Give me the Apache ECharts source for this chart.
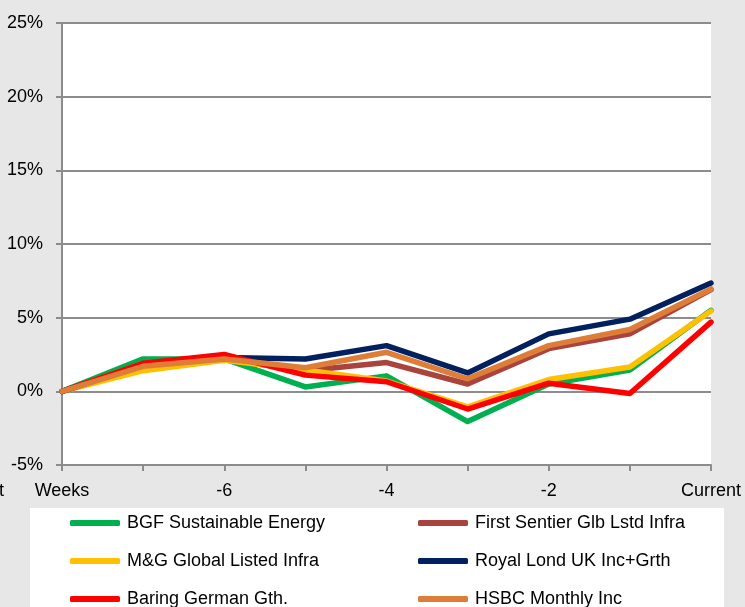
<!DOCTYPE html>
<html><head><meta charset="utf-8">
<script src="https://cdn.jsdelivr.net/npm/echarts@6/dist/echarts.min.js"></script>
<style>html,body{margin:0;padding:0;background:#e7e7e7;}#c{width:745px;height:607px;}</style>
</head><body><div id="c"></div>
<script>
var categories = ["Weeks","-7","-6","-5","-4","-3","-2","-1","Current"];
var yTicks = [-5, 0, 5, 10, 15, 20, 25];
var seriesNames = ["BGF Sustainable Energy","First Sentier Glb Lstd Infra","M&G Global Listed Infra","Royal Lond UK Inc+Grth","Baring German Gth.","HSBC Monthly Inc"];
var bgf     = [0, 2.2, 2.2, 0.3, 1.05, -2.05, 0.5, 1.45, 5.5];
var first   = [0, 1.7, 2.2, 1.4, 1.95, 0.5, 2.9, 3.9, 6.9];
var mg      = [0, 1.4, 2.1, 1.45, 0.7, -1.05, 0.8, 1.65, 5.45];
var royal   = [0, 1.8, 2.3, 2.2, 3.1, 1.25, 3.9, 4.9, 7.35];
var baring  = [0, 1.9, 2.5, 1.1, 0.65, -1.2, 0.55, -0.15, 4.7];
var hsbc    = [0, 1.7, 2.2, 1.6, 2.65, 0.85, 3.1, 4.2, 6.95];
var values = [bgf, first, mg, royal, baring, hsbc];
var colors = ["#00b050","#a8433e","#ffc000","#002060","#ff0000","#de7d38"];

var FONT = "'Liberation Sans', Arial, sans-serif";
var chart = echarts.init(document.getElementById('c'), null, {renderer:'canvas'});
var legendPos = [[70,513],[418,513],[70,551],[418,551],[70,589],[418,589]];
var legends = seriesNames.map(function(n,i){
  return {
    data:[n], left: legendPos[i][0], top: legendPos[i][1], padding:0,
    icon:'roundRect', itemWidth:50, itemHeight:6, itemGap:0,
    textStyle:{fontFamily:FONT, fontSize:18, color:'#000', lineHeight:20, padding:[0,0,0,2]}
  };
});
chart.setOption({
  backgroundColor:'#e7e7e7',
  animation:false,
  textStyle:{fontFamily:FONT},
  graphic:[
    {type:'rect', shape:{x:30,y:508,width:694,height:110}, style:{fill:'#ffffff'}, z:-1},
    {type:'text', left:-1, top:482, style:{text:'t', font:'18px '+FONT, fill:'#000'}}
  ],
  legend: legends,
  grid:{left:62, right:34, top:23, bottom:142, show:true, backgroundColor:'#ffffff', borderWidth:0},
  xAxis:{
    type:'category', data:categories, boundaryGap:false,
    axisLine:{onZero:false, lineStyle:{color:'#8c8c8c', width:2}},
    axisTick:{show:true, length:6, interval:0, lineStyle:{color:'#8c8c8c', width:2}},
    axisLabel:{interval:1, margin:17, color:'#000', fontSize:18, fontFamily:FONT},
    splitLine:{show:false}
  },
  yAxis:{
    type:'value', min:yTicks[0], max:yTicks[yTicks.length-1], interval:5,
    axisLine:{show:true, lineStyle:{color:'#8c8c8c', width:2}},
    axisTick:{show:true, length:6, lineStyle:{color:'#8c8c8c', width:2}},
    axisLabel:{formatter:'{value}%', margin:19, color:'#000', fontSize:18, fontFamily:FONT},
    splitLine:{show:true, lineStyle:{color:'#8c8c8c', width:2}}
  },
  series: seriesNames.map(function(n,i){
    return {name:n, type:'line', data:values[i], symbol:'none', smooth:false,
      lineStyle:{color:colors[i], width:5.5, cap:'round', join:'round'}, itemStyle:{color:colors[i]}};
  })
});
</script></body></html>
